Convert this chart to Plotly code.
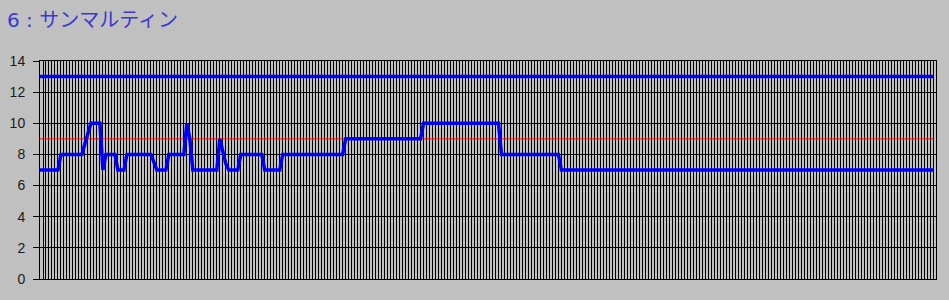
import plotly.graph_objects as go

title_number = "6 : "
title_name = "サンマルティン"

# main series (one value per category)
values = [
    7, 7, 7, 7, 7, 7, 7, 8, 8, 8, 8, 8, 8, 8, 8, 8.7, 9.4, 10, 10, 10,
    10, 7, 8, 8, 8, 8, 7, 7, 7, 8, 8, 8, 8, 8, 8, 8, 8, 8, 7.5, 7,
    7, 7, 7, 8, 8, 8, 8, 8, 8, 10, 9, 7, 7, 7, 7, 7, 7, 7, 7, 7,
    9, 8.2, 7.4, 7, 7, 7, 7, 8, 8, 8, 8, 8, 8, 8, 8, 7, 7, 7, 7, 7,
    7, 8, 8, 8, 8, 8, 8, 8, 8, 8, 8, 8, 8, 8, 8, 8, 8, 8, 8, 8,
    8, 8, 9, 9, 9, 9, 9, 9, 9, 9, 9, 9, 9, 9, 9, 9, 9, 9, 9, 9,
    9, 9, 9, 9, 9, 9, 9, 9, 10, 10, 10, 10, 10, 10, 10, 10, 10, 10, 10, 10,
    10, 10, 10, 10, 10, 10, 10, 10, 10, 10, 10, 10, 10, 10, 8, 8, 8, 8, 8, 8,
    8, 8, 8, 8, 8, 8, 8, 8, 8, 8, 8, 8, 8, 8, 7, 7, 7, 7, 7, 7,
    7, 7, 7, 7, 7, 7, 7, 7, 7, 7, 7, 7, 7, 7, 7, 7, 7, 7, 7, 7,
    7, 7, 7, 7, 7, 7, 7, 7, 7, 7, 7, 7, 7, 7, 7, 7, 7, 7, 7, 7,
    7, 7, 7, 7, 7, 7, 7, 7, 7, 7, 7, 7, 7, 7, 7, 7, 7, 7, 7, 7,
    7, 7, 7, 7, 7, 7, 7, 7, 7, 7, 7, 7, 7, 7, 7, 7, 7, 7, 7, 7,
    7, 7, 7, 7, 7, 7, 7, 7, 7, 7, 7, 7, 7, 7, 7, 7, 7, 7, 7, 7,
    7, 7, 7, 7, 7, 7, 7, 7, 7, 7, 7, 7, 7, 7, 7, 7, 7, 7, 7,
]
upper_level = 13
threshold_level = 9
y_ticks = [0, 2, 4, 6, 8, 10, 12, 14]

n = len(values)
xs = list(range(n))
x_end = n - 1

fig = go.Figure()
fig.add_trace(go.Scatter(x=[0, x_end], y=[threshold_level, threshold_level], mode="lines",
                         line=dict(color="#FF0000", width=1), hoverinfo="skip"))
fig.add_trace(go.Scatter(x=[0, x_end], y=[upper_level, upper_level], mode="lines",
                         line=dict(color="#0000FF", width=3.5), hoverinfo="skip"))
fig.add_trace(go.Scatter(x=xs, y=values, mode="lines",
                         line=dict(color="#0000FF", width=3.5), hoverinfo="skip"))

title_html = ('<span style="font-family:DejaVu Sans">' + title_number + '</span>' + title_name)

fig.update_layout(
    width=949, height=300,
    margin=dict(l=40, r=13, t=61, b=21),
    paper_bgcolor="#C0C0C0", plot_bgcolor="#C0C0C0",
    showlegend=False,
    title=dict(text=title_html, xref="container", yref="container",
               x=7 / 949, xanchor="left", y=1 - 20 / 300, yanchor="middle",
               font=dict(family="Noto Sans CJK JP", size=20, color="rgb(58,58,210)")),
    xaxis=dict(range=[0, n], dtick=1, tick0=0, showgrid=True, gridcolor="#000000", gridwidth=1,
               showticklabels=False, ticks="", zeroline=False, automargin=False,
               showline=True, linecolor="#000000", linewidth=1, mirror=True, fixedrange=True),
    yaxis=dict(range=[0, 14], tickvals=y_ticks, showgrid=True, gridcolor="#000000", gridwidth=1,
               ticks="outside", ticklen=6, tickcolor="#000000", tickwidth=1,
               ticklabelstandoff=5, automargin=False,
               tickfont=dict(family="Liberation Sans", size=14, color="#1a1a1a"),
               zeroline=False, showline=True, linecolor="#000000", linewidth=1, mirror=True,
               fixedrange=True),
)

fig.write_html("out.html")
